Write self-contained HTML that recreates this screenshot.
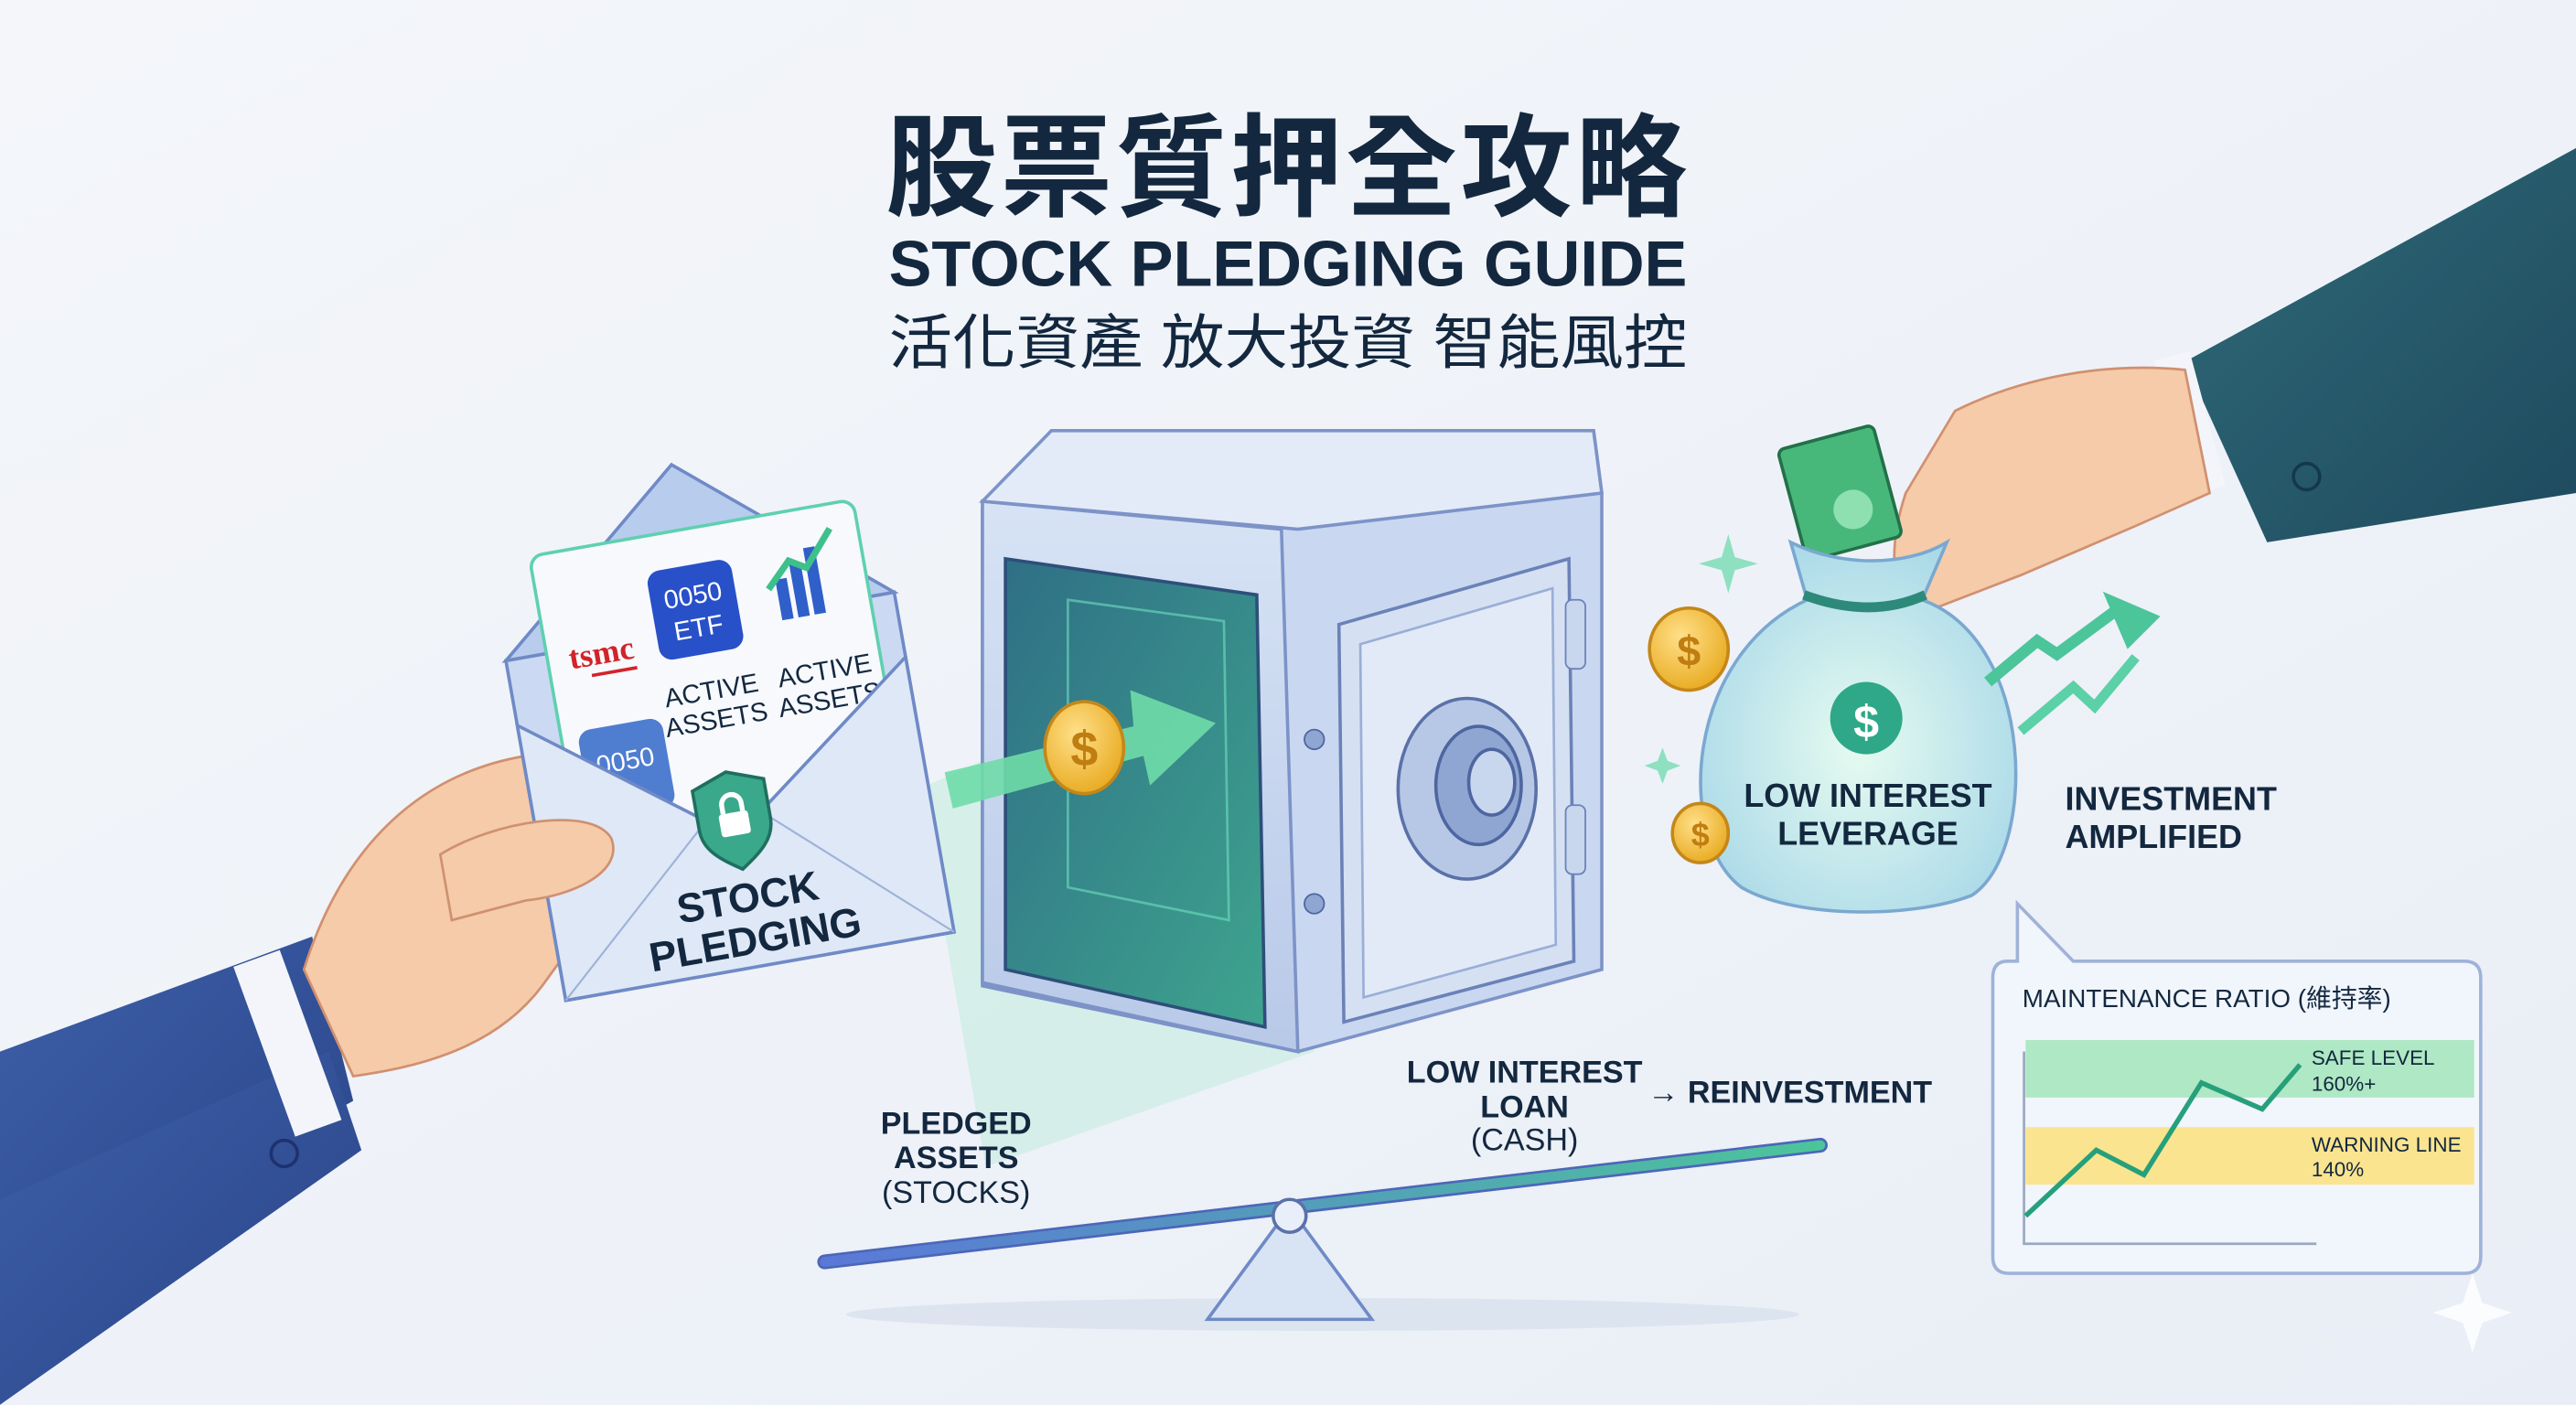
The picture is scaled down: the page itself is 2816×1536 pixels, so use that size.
<!DOCTYPE html>
<html><head><meta charset="utf-8"><style>
html,body{margin:0;padding:0;width:2816px;height:1536px;overflow:hidden;background:#eef2f8}
svg{display:block}
text{font-family:"Liberation Sans","Noto Sans CJK TC",sans-serif;fill:#13283f}
</style></head><body>
<svg width="2816" height="1536" viewBox="0 0 1568 855" xmlns="http://www.w3.org/2000/svg">
<defs>
<linearGradient id="bg" x1="0" y1="0" x2="1" y2="1"><stop offset="0" stop-color="#f4f6fa"/><stop offset="1" stop-color="#e9eef6"/></linearGradient>
<linearGradient id="sleeve" x1="0" y1="0" x2="1" y2="1"><stop offset="0" stop-color="#3d5fa8"/><stop offset="1" stop-color="#2a4488"/></linearGradient>
<linearGradient id="sleeveR" x1="0" y1="0" x2="1" y2="1"><stop offset="0" stop-color="#2f6a78"/><stop offset="1" stop-color="#1e4a5e"/></linearGradient>
<linearGradient id="safeF" x1="0" y1="0" x2="0" y2="1"><stop offset="0" stop-color="#d7e3f5"/><stop offset="1" stop-color="#b8c9e8"/></linearGradient>
<linearGradient id="inside" x1="0" y1="0" x2="1" y2="1"><stop offset="0" stop-color="#2f6f86"/><stop offset="1" stop-color="#3ea48e"/></linearGradient>
<linearGradient id="beam" x1="0" y1="0" x2="1" y2="0"><stop offset="0" stop-color="#5a78d8"/><stop offset="1" stop-color="#4cc59a"/></linearGradient>
<radialGradient id="bag" cx="0.5" cy="0.55" r="0.6"><stop offset="0" stop-color="#e6fbf0"/><stop offset="1" stop-color="#a8d8e8"/></radialGradient>
<radialGradient id="coin" cx="0.4" cy="0.35" r="0.7"><stop offset="0" stop-color="#ffe08a"/><stop offset="1" stop-color="#e8a91e"/></radialGradient>
</defs>
<rect width="1568" height="855" fill="url(#bg)"/>

<text x="784" y="126" text-anchor="middle" font-size="68" font-weight="bold" letter-spacing="2">股票質押全攻略</text>
<text x="784" y="174" text-anchor="middle" font-size="39" font-weight="bold" textLength="486" lengthAdjust="spacingAndGlyphs">STOCK PLEDGING GUIDE</text>
<text x="784" y="221" text-anchor="middle" font-size="36" textLength="486" lengthAdjust="spacingAndGlyphs">活化資產 放大投資 智能風控</text>

<polygon points="560,480 760,390 800,640 600,710" fill="#b9ecd8" opacity="0.45"/>

<path d="M598,310 L640,262 L970,262 L975,300 L975,590 L790,640 L598,600 Z" fill="#c9d8f0" stroke="#7d93c8" stroke-width="2"/>
<path d="M598,305 L780,322 L790,640 L598,598 Z" fill="url(#safeF)" stroke="#7d93c8" stroke-width="2"/>
<path d="M612,340 L765,362 L770,625 L612,590 Z" fill="url(#inside)" stroke="#2d4f7a" stroke-width="2"/>
<path d="M650,365 L745,378 L748,560 L650,540 Z" fill="none" stroke="#6fe0c0" stroke-width="1.5" opacity="0.6"/>
<path d="M640,262 L970,262 L975,300 L790,322 L598,305 Z" fill="#e3ebf8" stroke="#7d93c8" stroke-width="2"/>
<path d="M815,380 L955,340 L958,585 L818,622 Z" fill="#d5e1f3" stroke="#6b82b8" stroke-width="2"/>
<path d="M828,392 L945,358 L947,575 L830,607 Z" fill="#e2eaf7" stroke="#9aaed6" stroke-width="1.5"/>
<ellipse cx="893" cy="480" rx="42" ry="55" fill="#b7c8e6" stroke="#5a71a8" stroke-width="2"/>
<ellipse cx="900" cy="478" rx="26" ry="36" fill="#8fa6d2" stroke="#4e66a0" stroke-width="2"/>
<ellipse cx="908" cy="476" rx="14" ry="20" fill="#c8d6ee" stroke="#4e66a0" stroke-width="2"/>
<rect x="953" y="365" width="12" height="42" rx="4" fill="#c8d6ee" stroke="#6b82b8"/>
<rect x="953" y="490" width="12" height="42" rx="4" fill="#c8d6ee" stroke="#6b82b8"/>
<circle cx="800" cy="450" r="6" fill="#8fa6d2" stroke="#4e66a0"/>
<circle cx="800" cy="550" r="6" fill="#8fa6d2" stroke="#4e66a0"/>

<polygon points="575,470 690,442 688,420 740,440 700,478 696,460 580,492" fill="#6fdca8" opacity="0.9"/>
<ellipse cx="660" cy="455" rx="24" ry="28" fill="url(#coin)" stroke="#c4871a" stroke-width="2"/>
<text x="660" y="466" text-anchor="middle" font-size="30" font-weight="bold" style="fill:#c07d10">$</text>

<path d="M0,640 L190,570 L215,670 L0,790 Z" fill="url(#sleeve)"/>
<path d="M0,730 L200,640 L220,700 L0,855 Z" fill="url(#sleeve)"/>
<rect x="160" y="580" width="30" height="110" fill="#f3f5fa" transform="rotate(-20 175 635)"/>
<path d="M185,590 C210,510 260,470 320,460 L340,500 C370,500 385,520 370,545 L330,600 C300,640 250,650 215,655 Z" fill="#f5cba9" stroke="#d09070" stroke-width="1.5"/>
<circle cx="173" cy="702" r="8" fill="none" stroke="#1e3270" stroke-width="2"/>

<g transform="rotate(-10 440 460)">
<rect x="320" y="380" width="240" height="210" fill="#cbd9f2" stroke="#6f8ac6" stroke-width="2"/>
<polygon points="320,380 440,280 560,380" fill="#b8ccee" stroke="#6f8ac6" stroke-width="2"/>
<rect x="345" y="320" width="200" height="200" rx="8" fill="#f7f9fd" stroke="#5fd0b0" stroke-width="2"/>
<text x="378" y="392" text-anchor="middle" font-size="20" font-weight="bold" style="fill:#d2232a;font-family:'Liberation Serif',serif">tsmc</text>
<rect x="370" y="397" width="28" height="2" fill="#d2232a"/>
<rect x="413" y="342" width="52" height="55" rx="8" fill="#2850c8"/>
<text x="439" y="366" text-anchor="middle" font-size="16" style="fill:#fff">0050</text>
<text x="439" y="386" text-anchor="middle" font-size="16" style="fill:#fff">ETF</text>
<rect x="490" y="360" width="7" height="25" fill="#2f5fc8"/><rect x="500" y="352" width="7" height="33" fill="#2f5fc8"/><rect x="510" y="344" width="7" height="41" fill="#2f5fc8"/>
<polyline points="485,365 500,350 510,356 528,335" fill="none" stroke="#3ec08a" stroke-width="4"/>
<text x="440" y="425" text-anchor="middle" font-size="16">ACTIVE</text>
<text x="440" y="443" text-anchor="middle" font-size="16">ASSETS</text>
<text x="510" y="425" text-anchor="middle" font-size="16">ACTIVE</text>
<text x="510" y="443" text-anchor="middle" font-size="16">ASSETS</text>
<rect x="355" y="430" width="52" height="55" rx="8" fill="#4f7ed0"/>
<text x="381" y="458" text-anchor="middle" font-size="16" style="fill:#fff">0050</text>
<polygon points="320,420 440,510 560,420 560,590 320,590" fill="#dfe8f7" stroke="#6f8ac6" stroke-width="2"/>
<polyline points="320,420 440,510 560,420" fill="none" stroke="#6f8ac6" stroke-width="1.5"/>
<line x1="320" y1="590" x2="420" y2="500" stroke="#9fb2d8" stroke-width="1.2"/>
<line x1="560" y1="590" x2="460" y2="500" stroke="#9fb2d8" stroke-width="1.2"/>
<path d="M440,470 L462,478 L462,502 C462,515 452,522 440,530 C428,522 418,515 418,502 L418,478 Z" fill="#3aa88a" stroke="#1f6f60" stroke-width="2"/>
<rect x="431" y="495" width="18" height="14" rx="2" fill="#fff"/>
<path d="M434,495 v-5 a6,6 0 0 1 12,0 v5" fill="none" stroke="#fff" stroke-width="3"/>
<text x="440" y="556" text-anchor="middle" font-size="25" font-weight="bold">STOCK</text>
<text x="440" y="582" text-anchor="middle" font-size="25" font-weight="bold">PLEDGING</text>
</g>
<path d="M268,520 C300,500 360,490 372,510 C380,530 350,545 320,548 L275,560 Z" fill="#f5cba9" stroke="#d09070" stroke-width="1.5"/>

<path d="M1568,90 L1568,300 L1380,330 L1330,220 Z" fill="url(#sleeveR)"/>
<rect x="1322" y="215" width="22" height="85" fill="#f3f5fa" transform="rotate(-15 1333 257)"/>
<path d="M1330,225 C1280,220 1230,230 1190,250 L1160,300 C1150,330 1150,360 1165,375 L1230,350 L1300,320 L1345,300 Z" fill="#f5cba9" stroke="#d09070" stroke-width="1.5"/>
<circle cx="1404" cy="290" r="8" fill="none" stroke="#14384a" stroke-width="2"/>

<rect x="1090" y="265" width="60" height="70" rx="4" fill="#47b87a" stroke="#23704a" stroke-width="2" transform="rotate(-15 1120 300)"/>
<circle cx="1128" cy="310" r="12" fill="#8fe0b0"/>
<path d="M1090,330 C1120,345 1160,345 1185,330 L1170,365 C1240,390 1240,520 1200,545 C1160,560 1090,558 1060,540 C1020,510 1025,400 1100,365 Z" fill="url(#bag)" stroke="#7aa8d0" stroke-width="2"/>
<path d="M1098,362 C1125,372 1150,372 1172,362" fill="none" stroke="#2d8a7a" stroke-width="6"/>
<circle cx="1136" cy="437" r="22" fill="#2ea888"/>
<text x="1136" y="449" text-anchor="middle" font-size="28" font-weight="bold" style="fill:#fff">$</text>
<text x="1137" y="491" text-anchor="middle" font-size="20" font-weight="bold">LOW INTEREST</text>
<text x="1137" y="514" text-anchor="middle" font-size="20" font-weight="bold">LEVERAGE</text>
<ellipse cx="1028" cy="395" rx="24" ry="25" fill="url(#coin)" stroke="#c4871a" stroke-width="2"/>
<text x="1028" y="405" text-anchor="middle" font-size="26" font-weight="bold" style="fill:#c07d10">$</text>
<ellipse cx="1035" cy="507" rx="17" ry="18" fill="url(#coin)" stroke="#c4871a" stroke-width="2"/>
<text x="1035" y="515" text-anchor="middle" font-size="20" font-weight="bold" style="fill:#c07d10">$</text>
<polyline points="1210,415 1240,390 1252,398 1290,370" fill="none" stroke="#4cc59a" stroke-width="7"/>
<polygon points="1280,360 1315,375 1295,395" fill="#4cc59a"/>
<polyline points="1230,445 1262,418 1275,430 1300,400" fill="none" stroke="#5cd0a6" stroke-width="6"/>
<text x="1257" y="493" font-size="20" font-weight="bold">INVESTMENT</text>
<text x="1257" y="516" font-size="20" font-weight="bold">AMPLIFIED</text>

<ellipse cx="805" cy="800" rx="290" ry="10" fill="#d5deec" opacity="0.7"/>
<line x1="502" y1="768" x2="1108" y2="697" stroke="#4c66b8" stroke-width="9" stroke-linecap="round"/>
<line x1="502" y1="768" x2="1108" y2="697" stroke="url(#beam)" stroke-width="6" stroke-linecap="round"/>
<polygon points="785,735 735,803 835,803" fill="#d8e3f4" stroke="#6f8ac6" stroke-width="2"/>
<circle cx="785" cy="740" r="10" fill="#e8effa" stroke="#5a71a8" stroke-width="2"/>
<text x="582" y="690" text-anchor="middle" font-size="19" font-weight="bold">PLEDGED</text>
<text x="582" y="711" text-anchor="middle" font-size="19" font-weight="bold">ASSETS</text>
<text x="582" y="732" text-anchor="middle" font-size="19">(STOCKS)</text>
<text x="928" y="659" text-anchor="middle" font-size="19" font-weight="bold">LOW INTEREST</text>
<text x="928" y="680" text-anchor="middle" font-size="19" font-weight="bold">LOAN</text>
<text x="928" y="700" text-anchor="middle" font-size="19">(CASH)</text>
<text x="1003" y="671" font-size="19" font-weight="bold">→ REINVESTMENT</text>

<path d="M1222,585 L1228,585 L1228,550 L1262,585 L1500,585 Q1510,585 1510,595 L1510,765 Q1510,775 1500,775 L1223,775 Q1213,775 1213,765 L1213,595 Q1213,585 1222,585 Z" fill="#f1f5fc" stroke="#9fb2d8" stroke-width="2"/>
<text x="1231" y="613" font-size="15.5">MAINTENANCE RATIO (維持率)</text>
<rect x="1233" y="633" width="273" height="35" fill="#aee8c4"/>
<rect x="1233" y="686" width="273" height="35" fill="#fbe48f"/>
<polyline points="1232,640 1232,757 1410,757" fill="none" stroke="#9aa8c0" stroke-width="1.5"/>
<polyline points="1233,740 1276,700 1305,715 1340,659 1377,675 1400,648" fill="none" stroke="#26a07a" stroke-width="3"/>
<text x="1407" y="648" font-size="12.5">SAFE LEVEL</text>
<text x="1407" y="664" font-size="12.5">160%+</text>
<text x="1407" y="701" font-size="12.5">WARNING LINE</text>
<text x="1407" y="716" font-size="12.5">140%</text>

<path d="M1052,325 l4,14 14,4 -14,4 -4,14 -4,-14 -14,-4 14,-4z" fill="#8fe0c0"/>
<path d="M1012,455 l3,8 8,3 -8,3 -3,8 -3,-8 -8,-3 8,-3z" fill="#8fe0c0"/>
<path d="M1505,775 l6,18 18,6 -18,6 -6,18 -6,-18 -18,-6 18,-6z" fill="#fff" opacity="0.8"/>
</svg>
</body></html>
